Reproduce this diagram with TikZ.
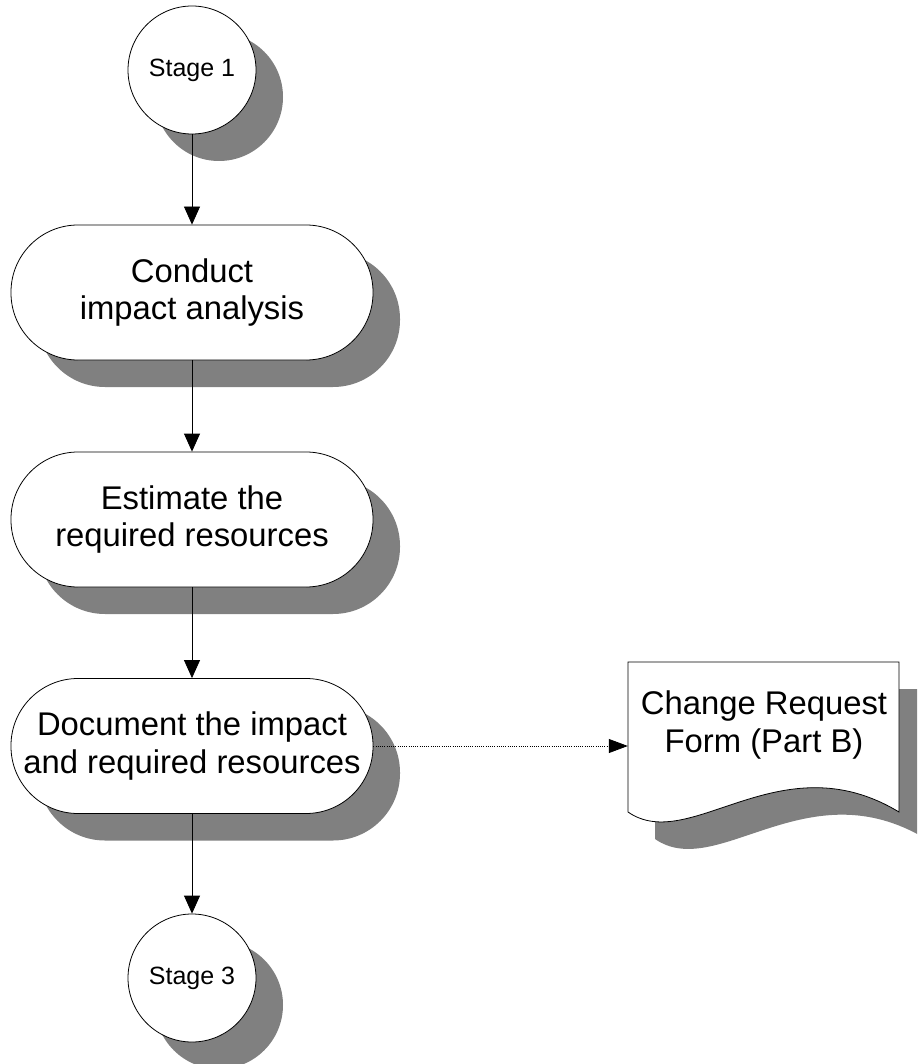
\documentclass[tikz,border=0pt]{standalone}
\usepackage{fontspec}
\setmainfont{Liberation Sans}
\usetikzlibrary{arrows.meta,shadows}
\newcommand\bigtxt{\fontsize{32.8pt}{37.5pt}\selectfont}
\newcommand\smalltxt{\fontsize{25pt}{28pt}\selectfont}
\tikzset{
  shad/.style={drop shadow={shadow xshift=27pt, shadow yshift=-27pt, fill=black!50, opacity=1}},
  term/.style={rectangle, draw=black, line width=0.8pt, fill=white, rounded corners=67pt,
    minimum width=362pt, minimum height=135pt, inner sep=0pt, align=center, font=\bigtxt, shad},
  stagec/.style={circle, draw=black, line width=0.8pt, fill=white, minimum size=128pt,
    inner sep=0pt, font=\smalltxt, shad},
  arr/.style={draw=black, line width=0.8pt, -{Triangle[width=16pt,length=18pt]}},
  dotarr/.style={draw=black, line width=0.8pt, dash pattern=on 1pt off 1.2pt, -{Triangle[width=14pt,length=19pt]}},
}
\newcommand\crfshape{(628,662) -- (899,662) -- (899,812) .. controls (780,740) and (690,855) .. (628,812) -- cycle}
\begin{document}
\begin{tikzpicture}[x=1pt,y=-1pt]
\clip (0,0) rectangle (917,1064);
\fill[white] (0,0) rectangle (917,1064);

\node[stagec] (s1) at (192,70) {Stage 1};
\node[term] (c1) at (192,292.5) {Conduct\\impact analysis};
\node[term] (c2) at (192,519.5) {Estimate the\\required resources};
\node[term] (c3) at (192,746) {Document the impact\\and required resources};
\node[stagec] (s3) at (192,978) {Stage 3};

% Change request form (document shape)
\begin{scope}[shift={(27,27)}]
  \fill[black!50] \crfshape;
\end{scope}
\draw[line width=0.8pt, fill=white] \crfshape;
\node[rectangle, minimum width=271pt, minimum height=150pt, inner sep=0pt] (crf) at (763.5,737) {};
\node[align=center, font=\bigtxt, inner sep=0pt] (crft) at (764,725) {Change Request\\Form (Part B)};

\draw[arr] (s1.south) -- (c1.north);
\draw[arr] (c1.south) -- (c2.north);
\draw[arr] (c2.south) -- (c3.north);
\draw[arr] (c3.south) -- (s3.north);
\draw[dotarr] (c3.east) -- (c3.east -| crf.west);
\end{tikzpicture}
\end{document}
